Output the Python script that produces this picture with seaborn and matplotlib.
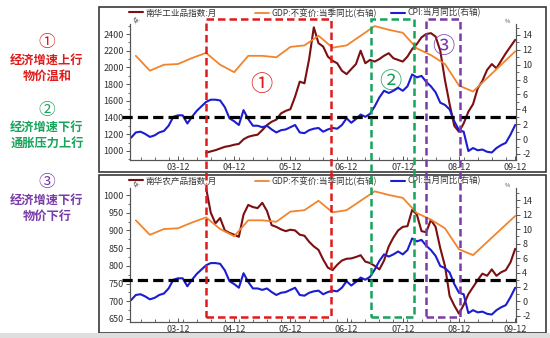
import matplotlib
matplotlib.use("Agg")
import matplotlib.pyplot as plt
import matplotlib.transforms as mtransforms
from matplotlib.patches import Rectangle
from matplotlib.ticker import MultipleLocator, FixedLocator
import pandas as pd
import seaborn as sns

sns.set_style("ticks")
plt.rcParams["font.family"] = ["Noto Sans CJK SC", "DejaVu Sans"]
plt.rcParams["axes.unicode_minus"] = False

# ---------------- data ----------------
# CPI year-on-year, monthly, 2003-01 .. 2009-12 (%)
cpi_months = pd.period_range("2003-01", "2009-12", freq="M")
cpi = [0.4, 0.2, 0.9, 1.0, 0.7, 0.3, 0.5, 0.9, 1.1, 1.8, 3.0, 3.2,
       3.2, 2.1, 3.0, 3.8, 4.4, 5.0, 5.3, 5.3, 5.2, 4.3, 2.8, 2.4,
       1.9, 3.9, 2.7, 1.8, 1.8, 1.6, 1.8, 1.3, 0.9, 1.2, 1.3, 1.6,
       1.9, 0.9, 0.8, 1.2, 1.4, 1.5, 1.0, 1.3, 1.5, 1.4, 1.9, 2.8,
       2.2, 2.7, 3.3, 3.0, 3.4, 4.4, 5.6, 6.5, 6.2, 6.5, 6.9, 6.5,
       7.1, 8.7, 8.3, 8.5, 7.7, 7.1, 6.3, 4.9, 4.6, 4.0, 2.4, 1.2,
       1.0, -1.6, -1.2, -1.5, -1.4, -1.7, -1.8, -1.2, -0.8, -0.5, 0.6, 1.9]

# GDP constant-price, quarterly yoy, 2003Q1 .. 2009Q4 (%)
gdp_quarters = pd.period_range("2003Q1", "2009Q4", freq="Q")
gdp = [11.2, 9.2, 10.0, 10.1,
       10.9, 11.6, 10.0, 9.0,
       11.2, 11.2, 11.0, 12.4,
       12.6, 13.9, 12.3, 12.6,
       13.9, 15.2, 14.7, 14.3,
       12.2, 11.3, 10.1, 7.2,
       6.4, 8.2, 10.0, 11.8]

# Nanhua commodity indices, monthly, 2004-06 .. 2009-12 (points)
nanhua_months = pd.period_range("2004-06", "2009-12", freq="M")
nanhua_ind = [980, 995, 1010, 1030, 1050, 1060, 1075,
              1085, 1140, 1170, 1185, 1195, 1250, 1310, 1350, 1375, 1450, 1480, 1500,
              1650, 1830, 1810, 2100, 2480, 2290, 2250, 2130, 2080, 2050, 1960, 1920,
              1980, 2040, 2200, 2050, 2090, 2070, 2100, 2140, 2170, 2110, 2090, 2070,
              2130, 2220, 2280, 2360, 2400, 2410, 2370, 2200, 1850, 1560, 1300, 1230,
              1330, 1470, 1560, 1750, 1840, 1970, 2040, 1990, 2080, 2170, 2250, 2330]
nanhua_agr = [1020, 950, 920, 935, 900, 893, 888,
              882, 945, 972, 966, 963, 978, 955, 915, 910, 903, 898, 902,
              900, 888, 885, 868, 855, 845, 818, 795, 788, 803, 815, 820,
              821, 825, 830, 812, 808, 800, 790, 815, 855, 880, 900, 910,
              912, 958, 945, 898, 895, 930, 910, 850, 800, 715, 688, 665,
              690, 720, 740, 760, 778, 772, 790, 772, 782, 788, 810, 848]

year_ticks = ["03-12", "04-12", "05-12", "06-12", "07-12", "08-12", "09-12"]
cpi_alert = 3.0

legend_labels_top = ["南华工业品指数:月", "GDP:不变价:当季同比(右轴)", "CPI:当月同比(右轴)"]
legend_labels_bot = ["南华农产品指数:月", "GDP:不变价:当季同比(右轴)", "CPI:当月同比(右轴)"]

# phases: (start, end) in fractional years
phases = [(2004.415, 2006.64, "#e01b1b", "①"),
          (2007.35, 2008.11, "#16a35a", "②"),
          (2008.33, 2008.935, "#7a3aa8", "③")]

side_notes = [("①", "经济增速上行", "物价温和", "#e01b1b"),
              ("②", "经济增速下行", "通胀压力上行", "#16a35a"),
              ("③", "经济增速下行", "物价下行", "#7a3aa8")]


def frac_year(periods):
    return [p.year + (p.month - 1) / 12 for p in periods]


t_cpi = frac_year(cpi_months)
t_gdp = frac_year(gdp_quarters.asfreq("M", how="end"))
t_nh = frac_year(nanhua_months)
t_ticks = [2003 + i + 11 / 12 for i in range(len(year_ticks))]

C_RED = "#7b0f12"
C_ORG = "#f0852d"
C_BLU = "#1c1cd0"

# ---------------- layout ----------------
W, H = 550, 338
fig = plt.figure(figsize=(W / 100, H / 100), dpi=100)


def fx(p):
    return p / W


def fy(p):
    return 1 - p / H


XL = (2003.063, 2009.931)


def make_panel(top, bottom, left_vals, ylim_l, ylim_r, lmaj, lmin, label_left):
    ax = fig.add_axes([fx(130), fy(bottom), fx(516) - fx(130), fy(top) - fy(bottom)])
    axr = ax.twinx()
    sns.lineplot(x=t_nh, y=left_vals, ax=ax, color=C_RED, lw=1.5, label=label_left, legend=False)
    sns.lineplot(x=t_gdp, y=gdp, ax=axr, color=C_ORG, lw=1.3, legend=False)
    sns.lineplot(x=t_cpi, y=cpi, ax=axr, color=C_BLU, lw=1.5, legend=False)
    axr.axhline(cpi_alert, xmin=-0.02, xmax=1.0, color="black", lw=2.3,
                ls=(0, (3.2, 1.6)), clip_on=False, zorder=5)
    ax.set_xlim(*XL)
    ax.set_ylim(*ylim_l)
    axr.set_ylim(*ylim_r)
    ax.yaxis.set_major_locator(MultipleLocator(lmaj))
    ax.yaxis.set_minor_locator(MultipleLocator(lmin))
    axr.yaxis.set_major_locator(MultipleLocator(2))
    axr.yaxis.set_minor_locator(MultipleLocator(1))
    ax.xaxis.set_major_locator(FixedLocator(t_ticks))
    ax.set_xticklabels(year_ticks)
    ax.xaxis.set_minor_locator(MultipleLocator(0.25))
    for a in (ax, axr):
        a.set_xlabel("")
        a.set_ylabel("")
        a.spines["top"].set_visible(False)
        for s in ("left", "right", "bottom"):
            a.spines[s].set_color("#555555")
            a.spines[s].set_linewidth(0.8)
        a.tick_params(axis="y", which="major", length=3, width=0.7, color="#555555",
                      labelsize=6.5, labelcolor="#333333", pad=1.5)
        a.tick_params(axis="y", which="minor", length=1.8, width=0.6, color="#555555")
    ax.tick_params(axis="x", which="major", direction="in", length=3, width=0.7,
                   color="#555555", labelsize=6.5, labelcolor="#333333", pad=2)
    ax.tick_params(axis="x", which="minor", direction="in", length=2, width=0.6, color="#555555")
    axr.set_xlim(*XL)
    ax.text(0.005, 1.0, "点", transform=ax.transAxes, fontsize=4.2, color="#444444",
            ha="left", va="bottom", rotation=45)
    axr.text(0.985, 1.0, "%", transform=axr.transAxes, fontsize=4.2, color="#444444",
             ha="right", va="bottom")
    return ax, axr


ax1, ax1r = make_panel(24, 160, nanhua_ind, (892.3, 2519.7), (-2.807, 15.479), 200, 100,
                       legend_labels_top[0])
ax2, ax2r = make_panel(188, 322, nanhua_agr, (641.5, 1019.8), (-2.83, 15.66), 50, 25,
                       legend_labels_bot[0])

# legends above each panel
for ax, axr, labels, ly in ((ax1, ax1r, legend_labels_top, 13), (ax2, ax2r, legend_labels_bot, 181)):
    handles = [ax.get_lines()[0], axr.get_lines()[0], axr.get_lines()[1]]
    for h, lab, lx in zip(handles, labels, (129, 255, 391)):
        fig.legend(handles=[h], labels=[lab], loc="center left",
                   bbox_to_anchor=(fx(lx), fy(ly)), frameon=False, fontsize=6.2,
                   handlelength=1.6, handletextpad=0.3, borderpad=0, borderaxespad=0,
                   labelcolor="#333333")

# panel frames
for top, bot in ((7, 172), (175, 333)):
    fig.add_artist(Rectangle((fx(99), fy(bot)), fx(546) - fx(99), fy(top) - fy(bot),
                             transform=fig.transFigure, fill=False, ec="#3a3a3a", lw=1.2))
fig.add_artist(Rectangle((0, 0), 1, fy(333), transform=fig.transFigure,
                         color="#dedede", lw=0))

# phase boxes spanning both panels
blend = mtransforms.blended_transform_factory(ax1.transData, fig.transFigure)
for x0, x1, col, mark in phases:
    fig.add_artist(Rectangle((x0, fy(317)), x1 - x0, fy(18.5) - fy(317), transform=blend,
                             fill=False, ec=col, lw=1.8, ls=(0, (3, 1.6)), zorder=6))

ax1.text(2005.4, 1800, "①", color=phases[0][2], fontsize=16, ha="center", va="center")
ax1.text(2007.7, 1830, "②", color=phases[1][2], fontsize=16, ha="center", va="center")
ax1.text(2008.63, 2250, "③", color=phases[2][2], fontsize=16, ha="center", va="center")

# side notes
for (mark, l1, l2, col), ys in zip(side_notes, ((42, 60, 76), (110, 127, 143), (183, 200, 216))):
    fig.text(fx(47), fy(ys[0]), mark, color=col, fontsize=12, ha="center", va="center")
    fig.text(fx(47), fy(ys[1]), l1, color=col, fontsize=8.8, ha="center", va="center",
             fontweight="bold")
    fig.text(fx(47), fy(ys[2]), l2, color=col, fontsize=8.8, ha="center", va="center",
             fontweight="bold")

fig.savefig("out.png", dpi=100)
